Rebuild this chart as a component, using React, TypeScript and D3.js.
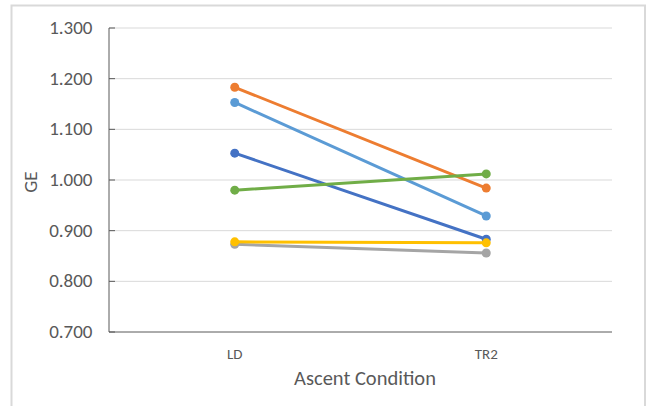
import React from "react";
import * as d3 from "d3";

const categories = ["LD", "TR2"];
const yTicks = [0.7, 0.8, 0.9, 1.0, 1.1, 1.2, 1.3];
const seriesBlue = [1.053, 0.883];
const seriesOrange = [1.183, 0.984];
const seriesGray = [0.873, 0.856];
const seriesYellow = [0.878, 0.876];
const seriesLightBlue = [1.153, 0.929];
const seriesGreen = [0.98, 1.012];

const series = [
  { name: "S1", values: seriesBlue, color: "#4472C4" },
  { name: "S2", values: seriesOrange, color: "#ED7D31" },
  { name: "S3", values: seriesGray, color: "#A5A5A5" },
  { name: "S4", values: seriesYellow, color: "#FFC000" },
  { name: "S5", values: seriesLightBlue, color: "#5B9BD5" },
  { name: "S6", values: seriesGreen, color: "#70AD47" },
];

const W = 649;
const H = 406;
const left = 109;
const right = 612;
const top = 28;
const bottom = 332;

export default function App() {
  const x = d3.scaleBand<string>().domain(categories).range([left, right]);
  const y = d3.scaleLinear().domain([0.7, 1.3]).range([bottom, top]);
  const cx = (c: string) => (x(c) ?? 0) + x.bandwidth() / 2;
  const line = d3
    .line<number>()
    .x((_, i) => cx(categories[i]))
    .y((v) => y(v));
  const font = "Carlito, Calibri, Lato, 'Open Sans', sans-serif";
  return (
    <svg
      width={W}
      height={H}
      style={{ position: "absolute", left: 0, top: 0, background: "#fff" }}
      fontFamily={font}
    >
      <rect x={11.5} y={5.5} width={633.5} height={410} fill="#fff" stroke="#D9D9D9" strokeWidth={2} />
      {yTicks.slice(1).map((t) => (
        <line key={t} x1={left} x2={right} y1={y(t)} y2={y(t)} stroke="#D9D9D9" strokeWidth={1} />
      ))}
      <line x1={left} x2={left} y1={top} y2={bottom} stroke="#595959" strokeWidth={1} />
      <line x1={left} x2={right} y1={bottom} y2={bottom} stroke="#595959" strokeWidth={1} />
      {yTicks.map((t) => (
        <g key={t}>
          <line x1={left} x2={left + 6} y1={y(t)} y2={y(t)} stroke="#595959" strokeWidth={1} />
          <text x={92.5} y={y(t) + 6} textAnchor="end" fontSize={19} fill="#595959">
            {d3.format(".3f")(t)}
          </text>
        </g>
      ))}
      {categories.map((c) => (
        <text key={c} x={cx(c)} y={358.5} textAnchor="middle" fontSize={15} fill="#595959">
          {c}
        </text>
      ))}
      <text x={365} y={385} textAnchor="middle" fontSize={20.5} fill="#595959">
        Ascent Condition
      </text>
      <text
        transform={`translate(36.5,182) rotate(-90)`}
        textAnchor="middle"
        fontSize={19}
        fill="#595959"
      >
        GE
      </text>
      {series.map((s) => (
        <g key={s.name}>
          <path d={line(s.values) ?? ""} fill="none" stroke={s.color} strokeWidth={3} strokeLinecap="round" />
          {s.values.map((v, i) => (
            <circle key={i} cx={cx(categories[i])} cy={y(v)} r={4.5} fill={s.color} />
          ))}
        </g>
      ))}
    </svg>
  );
}
